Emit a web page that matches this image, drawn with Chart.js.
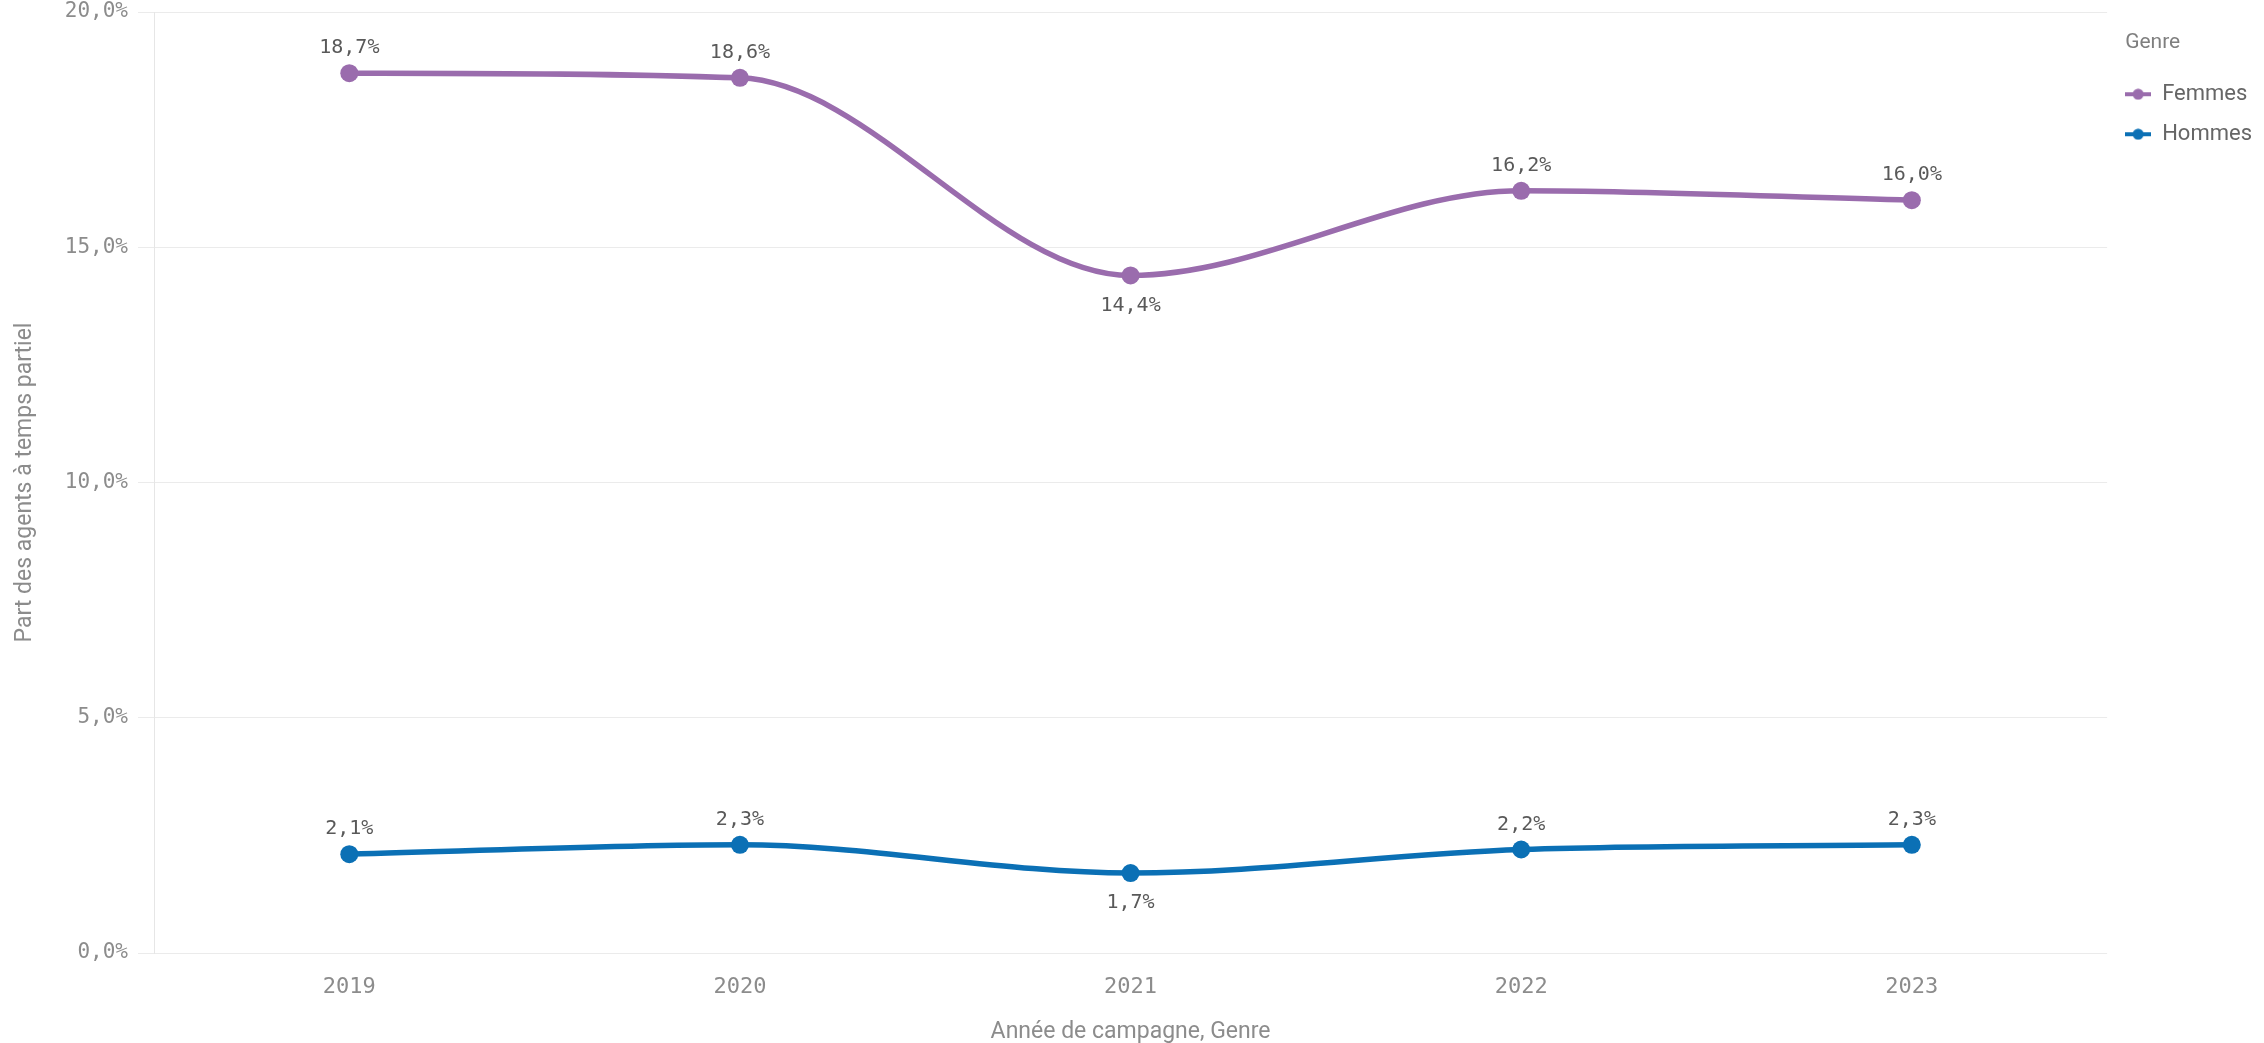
<!DOCTYPE html>
<html>
<head>
<meta charset="utf-8">
<script src="https://cdn.jsdelivr.net/npm/chart.js@4.4.0/dist/chart.umd.min.js"></script>
<style>
html, body { margin: 0; padding: 0; background: #fff; }
</style>
</head>
<body>
<canvas id="partielChart" width="2264" height="1043"></canvas>
<script>
const years = ['2019', '2020', '2021', '2022', '2023'];
const femmes = [18.7, 18.6, 14.4, 16.2, 16.0];
const hommes = [2.1, 2.3, 1.7, 2.2, 2.3];
const yTicks = [0, 5, 10, 15, 20];

const purple = '#9a6cad';
const blue = '#0b70b5';
const monoFont = 'DejaVu Sans Mono';
const textFont = 'Roboto';

const pct = v => v.toFixed(1).replace('.', ',') + '%';

// little line + dot used as legend symbol
function legendMarker(color) {
    const c = document.createElement('canvas');
    c.width = 26;
    c.height = 12;
    const g = c.getContext('2d');
    g.strokeStyle = color;
    g.lineWidth = 4;
    g.beginPath();
    g.moveTo(0, 6);
    g.lineTo(26, 6);
    g.stroke();
    g.fillStyle = color;
    g.beginPath();
    g.arc(13, 6, 5.5, 0, Math.PI * 2);
    g.fill();
    return c;
}

// value labels above points, below for local dips
const pointLabels = {
    id: 'pointLabels',
    afterDatasetsDraw(chart) {
        const ctx = chart.ctx;
        ctx.save();
        ctx.font = `20px "${monoFont}"`;
        ctx.fillStyle = '#595959';
        ctx.textAlign = 'center';
        ctx.textBaseline = 'middle';
        chart.data.datasets.forEach((ds, i) => {
            chart.getDatasetMeta(i).data.forEach((pt, j) => {
                const v = ds.data[j];
                const prev = ds.data[j - 1];
                const next = ds.data[j + 1];
                const below = prev !== undefined && next !== undefined && v < prev && v < next;
                ctx.fillText(pct(v), pt.x, below ? pt.y + 30 : pt.y - 25);
            });
        });
        ctx.restore();
    }
};

// legend title lined up with the legend symbols
const legendTitle = {
    id: 'legendTitle',
    afterDraw(chart) {
        const lg = chart.legend;
        const ctx = chart.ctx;
        ctx.save();
        ctx.font = `21px "${textFont}"`;
        ctx.fillStyle = '#7f7f7f';
        ctx.textAlign = 'left';
        ctx.textBaseline = 'middle';
        ctx.fillText('Genre', lg.left + lg.options.labels.padding, lg.top + 43);
        ctx.restore();
    }
};

const ctx = document.getElementById('partielChart').getContext('2d');
new Chart(ctx, {
    type: 'line',
    data: {
        labels: years,
        datasets: [
            {
                label: 'Femmes',
                data: femmes,
                borderColor: purple,
                backgroundColor: purple,
                pointBackgroundColor: purple,
            },
            {
                label: 'Hommes',
                data: hommes,
                borderColor: blue,
                backgroundColor: blue,
                pointBackgroundColor: blue,
            }
        ],
    },
    plugins: [pointLabels, legendTitle],
    options: {
        responsive: false,
        animation: false,
        layout: { padding: { top: 0, right: 2, bottom: 0, left: 0 } },
        elements: {
            line: { borderWidth: 5.5, cubicInterpolationMode: 'monotone' },
            point: { radius: 9, hoverRadius: 9, borderWidth: 0 },
        },
        plugins: {
            tooltip: { enabled: false },
            legend: {
                position: 'right',
                align: 'start',
                title: {
                    display: true,
                    text: 'Genre',
                    color: 'rgba(0,0,0,0)',
                    font: { family: textFont, size: 21 },
                    padding: { top: 31, bottom: 9 },
                },
                labels: {
                    usePointStyle: true,
                    pointStyleWidth: 26,
                    boxHeight: 12,
                    padding: 18,
                    color: '#666666',
                    font: { family: textFont, size: 22, lineHeight: 1.0 },
                    generateLabels(chart) {
                        return chart.data.datasets.map((ds, i) => ({
                            text: ds.label,
                            pointStyle: legendMarker(ds.borderColor),
                            fillStyle: ds.borderColor,
                            strokeStyle: ds.borderColor,
                            lineWidth: 0,
                            fontColor: '#666666',
                            datasetIndex: i,
                        }));
                    },
                },
            },
        },
        scales: {
            x: {
                offset: true,
                grid: { display: false, drawTicks: false },
                border: { display: false },
                ticks: {
                    color: '#8c8c8c',
                    padding: 21,
                    font: { family: monoFont, size: 22 },
                },
                title: {
                    display: true,
                    text: 'Année de campagne, Genre',
                    color: '#8c8c8c',
                    font: { family: textFont, size: 23 },
                    padding: { top: 0, bottom: -3 },
                },
                afterFit(scale) { scale.height = 90; },
            },
            y: {
                min: 0,
                max: 20,
                afterBuildTicks(scale) {
                    scale.ticks = yTicks.map(v => ({ value: v }));
                },
                grid: { color: '#ebebeb', tickLength: 16 },
                border: { display: true, color: '#e6e6e6' },
                ticks: {
                    color: '#8c8c8c',
                    padding: 10,
                    font: { family: monoFont, size: 21 },
                    callback: v => pct(v),
                },
                title: {
                    display: true,
                    text: 'Part des agents à temps partiel',
                    color: '#8c8c8c',
                    font: { family: textFont, size: 23 },
                    padding: { top: 11, bottom: 0 },
                },
                afterFit(scale) {
                    scale.width = 154;
                    scale.paddingTop = 12;
                },
            },
        },
    },
});
</script>
</body>
</html>
